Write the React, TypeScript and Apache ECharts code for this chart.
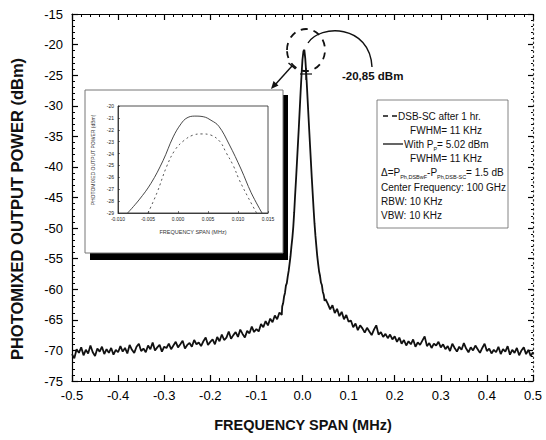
import React, { useEffect, useRef } from "react";
import * as echarts from "echarts";

const FONT = "'Liberation Sans', Arial, Helvetica, sans-serif";

// ---------- main trace ----------
const WING_STEP = 0.005;
const LEFT_WING_START = -0.5; // -0.500 ... -0.045
const leftWingPower = [
  -70.6, -71.3, -69.8, -70.4, -69.5, -70.8, -69.9, -70.5, -69.2, -70.3, -70.9, -69.7, -70.2, -69.4, -70.6, -69.8, -70.4, -69.6, -70.7, -69.9, -70.3,
  -69.3, -70.2, -69.6, -70.5, -69.1, -69.9, -70.4, -69.4, -68.9, -70.1, -69.7, -70.3, -69.2, -69.8, -68.7, -70.0, -69.5, -69.1, -70.2, -69.4,
  -69.6, -68.9, -69.8, -69.2, -68.6, -69.5, -69.0, -68.4, -69.7, -69.1, -68.8, -69.4, -68.3, -69.0, -68.7, -69.3, -68.5, -67.9, -69.1, -68.6,
  -68.2, -69.0, -67.8, -68.5, -67.4, -68.3, -67.9, -66.9, -68.1, -67.5, -67.0, -67.8, -66.6, -67.3, -67.9, -66.8, -67.2, -66.1, -67.0, -66.5,
  -66.9, -65.7, -66.2, -65.2, -65.9, -64.8, -65.4, -64.3, -64.9, -63.8, -64.2,
];
const peakFreq = [
  -0.044, -0.042, -0.04, -0.038, -0.036, -0.034, -0.032, -0.03, -0.028, -0.026, -0.024, -0.022, -0.02, -0.018, -0.016, -0.014, -0.012, -0.01, -0.008, -0.006, -0.004, -0.002, 0.0,
  0.002, 0.004, 0.006, 0.008, 0.01, 0.012, 0.014, 0.016, 0.018, 0.02, 0.022, 0.024, 0.026, 0.028, 0.03, 0.032, 0.034, 0.036, 0.038, 0.04, 0.042, 0.044, 0.046, 0.048, 0.05,
];
const peakPower = [
  -62.8, -62.3, -61.2, -60.6, -59.4, -59.0, -57.9, -57.0, -55.8, -54.6, -53.0, -51.6, -49.8, -47.4, -44.6, -42.0, -39.2, -36.4, -33.6, -30.6, -27.6, -24.8, -22.4,
  -21.1, -20.85, -22.3, -24.6, -27.4, -30.3, -33.2, -36.0, -38.8, -41.6, -44.2, -46.8, -49.2, -51.2, -52.9, -54.6, -55.9, -57.1, -57.8, -58.9, -59.3, -60.4, -60.9, -61.9, -61.6,
];
const RIGHT_WING_START = 0.055; // 0.055 ... 0.500
const rightWingPower = [
  -62.4, -63.3, -62.6, -63.9, -63.2, -64.4, -63.7, -64.9, -64.2, -65.3,
  -65.1, -66.2, -65.6, -66.7, -65.9, -66.4, -67.1, -66.3, -66.9, -67.5, -66.6, -65.9, -67.4, -67.0, -67.8, -67.3, -68.0, -67.4, -68.2, -67.7,
  -68.6, -67.9, -68.9, -68.3, -69.2, -68.5, -69.0, -68.2, -69.4, -68.7, -69.1, -68.4, -67.7, -69.3, -68.8, -69.6, -68.9, -69.2, -68.6, -69.5,
  -69.0, -69.8, -69.3, -70.1, -68.9, -69.6, -70.2, -69.4, -69.9, -68.8, -69.7, -70.3, -69.5, -70.0, -69.2, -69.8, -70.4, -69.6, -68.9, -70.1,
  -69.7, -70.5, -69.9, -70.3, -69.4, -70.6, -69.8, -70.2, -69.3, -70.7, -69.9, -70.4, -69.6, -70.8, -70.0, -69.5, -70.6, -69.9, -70.9, -70.3,
];

// ---------- inset traces ----------
const insetSolidFreq = [-0.0084, -0.0065, -0.0045, -0.0025, -0.0008, 0.0005, 0.0015, 0.0028, 0.0042, 0.0055, 0.0068, 0.0085, 0.0105, 0.0122, 0.014];
const insetSolidPower = [-29.0, -27.9, -26.5, -24.6, -22.6, -21.5, -21.0, -20.85, -20.9, -21.2, -21.7, -23.2, -25.3, -27.3, -29.0];
const insetDashFreq = [-0.005, -0.0035, -0.0019, -0.0005, 0.001, 0.0025, 0.004, 0.0055, 0.007, 0.008, 0.0092, 0.0102, 0.0117, 0.0131];
const insetDashPower = [-29.0, -27.3, -25.1, -23.7, -22.9, -22.45, -22.35, -22.45, -23.0, -23.9, -25.0, -26.2, -27.7, -29.0];

// ---------- axes ----------
const X_MIN = -0.5, X_MAX = 0.5, X_STEP = 0.1;
const Y_MIN = -75, Y_MAX = -15, Y_STEP = 5;
const MINOR_SPLIT = 5;
const IX_MIN = -0.01, IX_MAX = 0.015, IX_STEP = 0.005;
const IY_MIN = -29, IY_MAX = -20, IY_STEP = 1;

const X_TITLE = "FREQUENCY SPAN (MHz)";
const Y_TITLE = "PHOTOMIXED OUTPUT POWER (dBm)";
const PEAK_LABEL = "-20,85 dBm";

const mainData: number[][] = [
  ...leftWingPower.map((p, i) => [+(LEFT_WING_START + i * WING_STEP).toFixed(3), p]),
  ...peakFreq.map((f, i) => [f, peakPower[i]]),
  ...rightWingPower.map((p, i) => [+(RIGHT_WING_START + i * WING_STEP).toFixed(3), p]),
];

export default function App() {
  const ref = useRef<HTMLDivElement>(null);
  useEffect(() => {
    if (!ref.current) return;
    const chart = echarts.init(ref.current, null, { renderer: "svg" });
    const black = "#000";
    const mainTick = { show: true, inside: true, length: 6, lineStyle: { color: black, width: 1.2 } };
    const mainMinor = { show: true, splitNumber: MINOR_SPLIT, length: 3, lineStyle: { color: black, width: 1 } };
    const insetTick = { show: true, inside: true, length: 2, lineStyle: { color: "#222", width: 0.6 } };
    const labelStyle = { color: black, fontSize: 13, fontFamily: FONT };
    const insetLabel = { color: "#222", fontSize: 5, fontFamily: FONT };
    const noLabel = { show: false };
    const noSplit = { show: false };

    const legendText = (y: number, x: number, text: string, align = "left", rich?: any) => ({
      type: "text",
      x,
      y,
      z: 20,
      style: {
        text,
        fill: "#111",
        font: `10px ${FONT}`,
        textAlign: align,
        textVerticalAlign: "middle",
        ...(rich ? { rich } : {}),
      },
    });
    const subRich = {
      a: { fontSize: 10, fontFamily: FONT, lineHeight: 16, verticalAlign: "middle", fill: "#111", color: "#111" },
      s: { fontSize: 5.5, fontFamily: FONT, lineHeight: 6, verticalAlign: "bottom", fill: "#111", color: "#111" },
    };

    chart.setOption({
      animation: false,
      backgroundColor: "#fff",
      grid: [
        { left: 72, right: 13, top: 14, bottom: 59, show: false },
        { left: 118, top: 106, width: 150, height: 107, show: true, borderColor: "#222", borderWidth: 0.8, backgroundColor: "#fff", z: 3 },
      ],
      xAxis: [
        {
          type: "value", gridIndex: 0, min: X_MIN, max: X_MAX, interval: X_STEP, position: "bottom",
          axisLine: { show: true, onZero: false, lineStyle: { color: black, width: 1.2 } },
          axisTick: mainTick, minorTick: mainMinor, splitLine: noSplit,
          axisLabel: { ...labelStyle, margin: 8, formatter: (v: number) => v.toFixed(1) },
        },
        {
          type: "value", gridIndex: 0, min: X_MIN, max: X_MAX, interval: X_STEP, position: "top",
          axisLine: { show: true, onZero: false, lineStyle: { color: black, width: 1.2 } },
          axisTick: mainTick, minorTick: mainMinor, splitLine: noSplit, axisLabel: noLabel,
        },
        {
          type: "value", gridIndex: 1, min: IX_MIN, max: IX_MAX, interval: IX_STEP, z: 4,
          axisLine: { show: true, onZero: false, lineStyle: { color: "#222", width: 0.8 } },
          axisTick: insetTick, splitLine: noSplit,
          axisLabel: { ...insetLabel, margin: 3, formatter: (v: number) => v.toFixed(3) },
        },
      ],
      yAxis: [
        {
          type: "value", gridIndex: 0, min: Y_MIN, max: Y_MAX, interval: Y_STEP, position: "left",
          axisLine: { show: true, onZero: false, lineStyle: { color: black, width: 1.2 } },
          axisTick: mainTick, minorTick: mainMinor, splitLine: noSplit,
          axisLabel: { ...labelStyle, margin: 9, formatter: (v: number) => String(v) },
        },
        {
          type: "value", gridIndex: 0, min: Y_MIN, max: Y_MAX, interval: Y_STEP, position: "right",
          axisLine: { show: true, onZero: false, lineStyle: { color: "#333", width: 1.2, type: [1.5, 3] } },
          axisTick: { ...mainTick, length: 5 }, minorTick: { ...mainMinor, length: 2 }, splitLine: noSplit, axisLabel: noLabel,
        },
        {
          type: "value", gridIndex: 1, min: IY_MIN, max: IY_MAX, interval: IY_STEP, z: 4,
          axisLine: { show: true, onZero: false, lineStyle: { color: "#222", width: 0.8 } },
          axisTick: insetTick, splitLine: noSplit,
          axisLabel: { ...insetLabel, margin: 4, formatter: (v: number) => String(v) },
        },
      ],
      series: [
        {
          type: "line", xAxisIndex: 0, yAxisIndex: 0, data: mainData, symbol: "none", z: 2,
          lineStyle: { color: "#111", width: 1.8 },
        },
        {
          type: "line", xAxisIndex: 2, yAxisIndex: 2, symbol: "none", smooth: 0.4, z: 5,
          data: insetSolidFreq.map((f, i) => [f, insetSolidPower[i]]),
          lineStyle: { color: "#333", width: 0.9 },
        },
        {
          type: "line", xAxisIndex: 2, yAxisIndex: 2, symbol: "none", smooth: 0.4, z: 5,
          data: insetDashFreq.map((f, i) => [f, insetDashPower[i]]),
          lineStyle: { color: "#444", width: 0.9, type: [2, 3] },
        },
      ],
      graphic: [
        // axis titles
        {
          type: "text", x: 17, y: 209, rotation: Math.PI / 2, z: 20,
          style: { text: Y_TITLE, font: `bold 16.5px ${FONT}`, fill: "#111", textAlign: "center", textVerticalAlign: "middle" },
        },
        {
          type: "text", x: 303, y: 425, z: 20,
          style: { text: X_TITLE, font: `bold 14.5px ${FONT}`, fill: "#111", textAlign: "center", textVerticalAlign: "middle" },
        },
        // inset frame with shadow
        { type: "rect", z: 1, shape: { x: 90, y: 95, width: 198, height: 165 }, style: { fill: "#000" } },
        { type: "rect", z: 1, shape: { x: 85, y: 90, width: 198, height: 163 }, style: { fill: "#fff", stroke: "#777", lineWidth: 1 } },
        {
          type: "text", x: 93, y: 160, rotation: Math.PI / 2, z: 20,
          style: { text: Y_TITLE, font: `5px ${FONT}`, fill: "#333", textAlign: "center", textVerticalAlign: "middle" },
        },
        {
          type: "text", x: 193, y: 232, z: 20,
          style: { text: X_TITLE, font: `5.5px ${FONT}`, fill: "#333", textAlign: "center", textVerticalAlign: "middle" },
        },
        // legend box
        { type: "rect", z: 15, shape: { x: 377, y: 100, width: 131, height: 128 }, style: { fill: "#fff", stroke: "#666", lineWidth: 0.8 } },
        { type: "line", z: 20, shape: { x1: 383, y1: 116, x2: 397, y2: 116 }, style: { stroke: "#111", lineWidth: 1.3, lineDash: [5, 4] } },
        legendText(116, 398, "DSB-SC after 1 hr."),
        legendText(130, 446, "FWHM= 11 KHz", "center"),
        { type: "line", z: 20, shape: { x1: 383, y1: 144, x2: 403, y2: 144 }, style: { stroke: "#111", lineWidth: 1.3 } },
        legendText(144, 404, "{a|With P}{s|P}{a|= 5.02 dBm}", "left", subRich),
        legendText(158, 446, "FWHM= 11 KHz", "center"),
        legendText(172, 381, "{a|Δ=P}{s|Ph,DSBwF}{a|-P}{s|Ph,DSB-SC}{a|= 1.5 dB}", "left", subRich),
        legendText(187, 381, "Center Frequency: 100 GHz"),
        legendText(201, 381, "RBW: 10 KHz"),
        legendText(215, 381, "VBW: 10 KHz"),
        // peak annotation
        { type: "ellipse", z: 20, shape: { cx: 306, cy: 50, rx: 19, ry: 21 }, style: { fill: "none", stroke: "#111", lineWidth: 1.8, lineDash: [7, 6] } },
        { type: "bezierCurve", z: 20, shape: { x1: 308, y1: 43, cpx1: 320, cpy1: 24, cpx2: 370, cpy2: 24, x2: 372, y2: 67 }, style: { fill: "none", stroke: "#111", lineWidth: 1.4 } },
        { type: "line", z: 20, shape: { x1: 300, y1: 74, x2: 312, y2: 74 }, style: { stroke: "#111", lineWidth: 1.2 } },
        { type: "line", z: 20, shape: { x1: 306, y1: 68, x2: 306, y2: 80 }, style: { stroke: "#111", lineWidth: 1.2 } },
        {
          type: "text", x: 342, y: 76, z: 20,
          style: { text: PEAK_LABEL, font: `bold 11.5px ${FONT}`, fill: "#111", textAlign: "left", textVerticalAlign: "middle" },
        },
        // arrow to inset
        { type: "line", z: 20, shape: { x1: 292, y1: 66, x2: 274, y2: 86 }, style: { stroke: "#111", lineWidth: 1.4 } },
        { type: "line", z: 20, shape: { x1: 295.5, y1: 69, x2: 288.5, y2: 63 }, style: { stroke: "#111", lineWidth: 1.4 } },
        { type: "polygon", z: 20, shape: { points: [[271, 89], [278.5, 85.5], [273.5, 81]] }, style: { fill: "#111" } },
      ],
    });
    return () => chart.dispose();
  }, []);
  return (
    <div
      ref={ref}
      style={{ position: "fixed", left: 0, top: 0, width: 546, height: 440, background: "#fff" }}
    />
  );
}
